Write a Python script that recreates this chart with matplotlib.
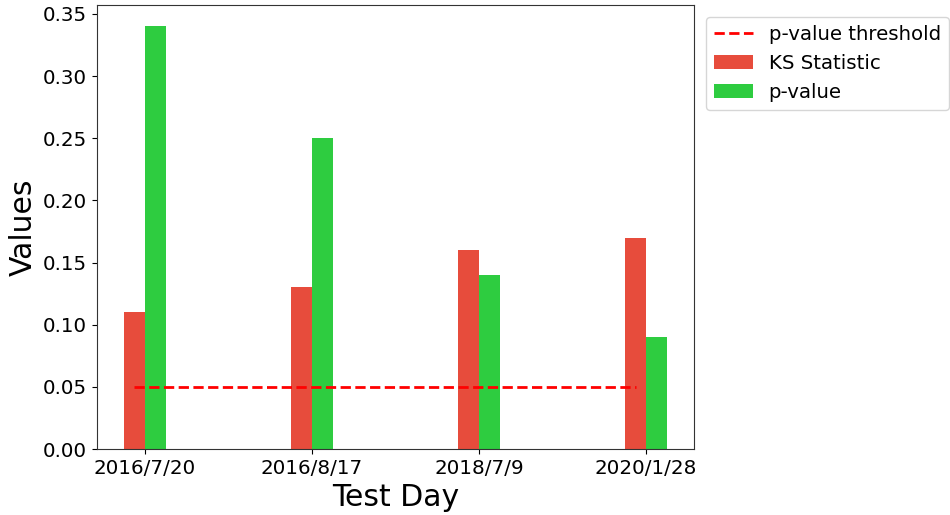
import numpy as np
import matplotlib
matplotlib.use('Agg')
import matplotlib.pyplot as plt

# data
test_days = ['2016/7/20', '2016/8/17', '2018/7/9', '2020/1/28']
ks_stat = [0.11, 0.13, 0.16, 0.17]
p_values = [0.34, 0.25, 0.14, 0.09]
threshold = 0.05

x = np.arange(len(test_days))
w = 0.125

fig, ax = plt.subplots(figsize=(9.5, 5.15), dpi=100)
fig.subplots_adjust(left=0.102, right=0.7305, top=0.99, bottom=0.128)

ax.plot(x - w / 2, [threshold] * len(x), 'r--', linewidth=2, label='p-value threshold')
ax.bar(x - w / 2, ks_stat, width=w, color='#e74c3c', label='KS Statistic')
ax.bar(x + w / 2, p_values, width=w, color='#2ecc40', label='p-value')

ax.set_xticks(x)
ax.set_xticklabels(test_days, fontsize=14.3)
ax.tick_params(axis='y', labelsize=14.3)
ax.set_xlabel('Test Day', fontsize=21.5)
ax.set_ylabel('Values', fontsize=21.5)
ax.set_ylim(0, 0.357)
for s in ax.spines.values():
    s.set_color('#333333')

ax.legend(loc='upper left', bbox_to_anchor=(1.003, 0.995), fontsize=14.2)

plt.savefig('out.png', dpi=100)
